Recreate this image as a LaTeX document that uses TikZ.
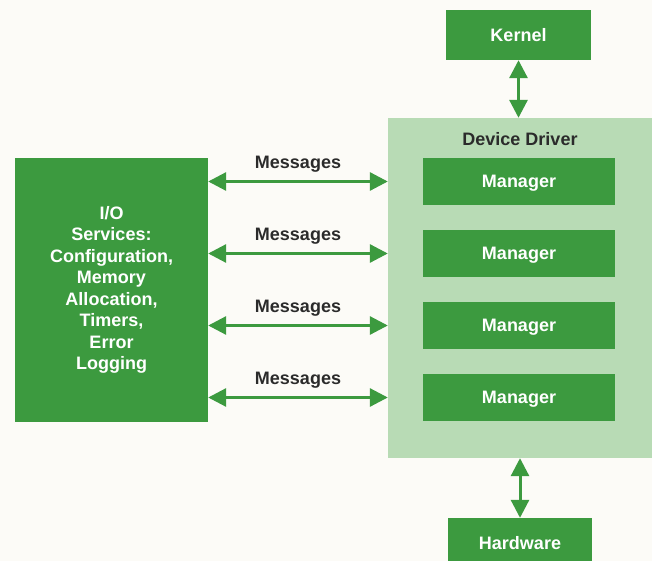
\documentclass[tikz,border=0pt]{standalone}
\usepackage{fontspec}
\setmainfont{Liberation Sans}
\usetikzlibrary{arrows.meta}

\definecolor{hpgreen}{HTML}{3C9A3F}
\definecolor{hplight}{HTML}{B8DBB5}
\definecolor{hpink}{HTML}{2B2B2B}
\definecolor{paper}{HTML}{FCFBF7}

\tikzset{
  greenbox/.style={fill=hpgreen, text=white, inner sep=0pt, align=center,
    font=\fontsize{18}{21.5}\selectfont\bfseries},
  drvbox/.style={fill=hplight, inner sep=0pt},
  darklabel/.style={text=hpink, inner sep=0pt, font=\fontsize{18}{21.5}\selectfont\bfseries},
  dblarrow/.style={hpgreen, line width=3pt,
    {Triangle[length=18pt,width=18pt]}-{Triangle[length=18pt,width=18pt]}}
}

\begin{document}
\begin{tikzpicture}[x=1pt,y=-1pt]
    \useasboundingbox (0,0) rectangle (652,561);
    \clip (0,0) rectangle (652,561);
    \fill[paper] (0,0) rectangle (652,561);

    \node[drvbox, minimum width=264, minimum height=340] (drv) at (520,288) {};
    \node[darklabel] (drvname) at (520,139) {Device Driver};

    \node[greenbox, minimum width=145, minimum height=50] (kernel) at (518.5,35) {Kernel};
    \node[greenbox, minimum width=144, minimum height=50] (hw) at (520,543) {Hardware};

    \node[greenbox, minimum width=193, minimum height=264] (io) at (111.5,290)
      {I/O\\Services:\\Configuration,\\Memory\\Allocation,\\Timers,\\Error\\Logging};

    \foreach \i/\y in {1/181.5,2/253.5,3/325.5,4/397.5}
             {
               \node[greenbox, text depth=0pt, minimum width=192, minimum height=47] (mgr\i) at (519,\y) {Manager};
               \coordinate (m\i) at (300,\y);
               \draw[dblarrow] (io.east |- m\i) -- (drv.west |- m\i)
                 node[darklabel, midway, above=8pt] (msg\i) {Messages};
             }

    \draw[dblarrow] (kernel.south) -- (kernel.south |- drv.north);
    \draw[dblarrow] (hw.north |- drv.south) -- (hw.north);

  \end{tikzpicture}
\end{document}
